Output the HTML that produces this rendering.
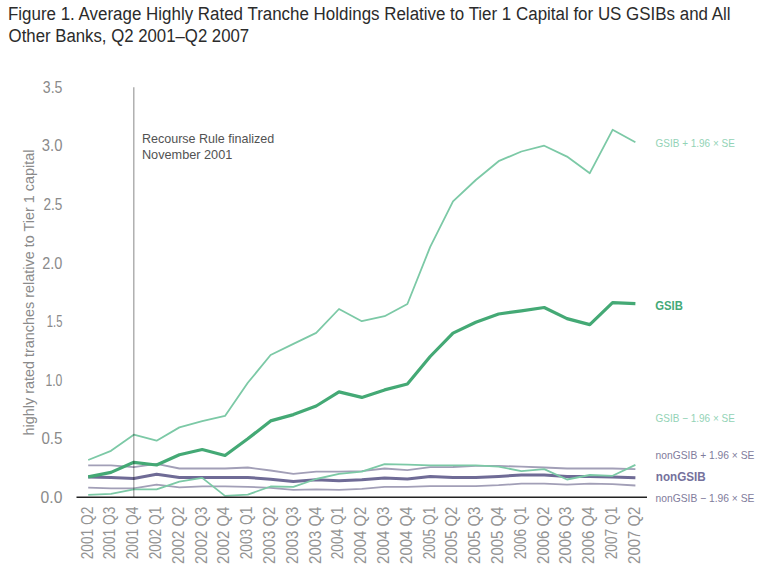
<!DOCTYPE html>
<html><head><meta charset="utf-8"><style>
html,body{margin:0;padding:0;background:#fff;}
svg{display:block;}
</style></head><body>
<svg width="768" height="583" viewBox="0 0 768 583" font-family="Liberation Sans, sans-serif">
<rect width="768" height="583" fill="#fff"/>
<g fill="#2b2b2b" font-size="18">
<text x="8.0" y="20.3" textLength="722.6" lengthAdjust="spacingAndGlyphs">Figure 1. Average Highly Rated Tranche Holdings Relative to Tier 1 Capital for US GSIBs and All</text>
<text x="8.6" y="41.5" textLength="240.6" lengthAdjust="spacingAndGlyphs">Other Banks, Q2 2001–Q2 2007</text>
</g>
<g fill="#8a8a8a" font-size="16">
<text x="62.4" y="502.7" text-anchor="end" textLength="21.8" lengthAdjust="spacingAndGlyphs">0.0</text><text x="62.4" y="444.1" text-anchor="end" textLength="21.0" lengthAdjust="spacingAndGlyphs">0.5</text><text x="62.4" y="385.6" text-anchor="end" textLength="17.0" lengthAdjust="spacingAndGlyphs">1.0</text><text x="62.4" y="327.0" text-anchor="end" textLength="15.6" lengthAdjust="spacingAndGlyphs">1.5</text><text x="62.4" y="268.5" text-anchor="end" textLength="20.1" lengthAdjust="spacingAndGlyphs">2.0</text><text x="62.4" y="209.9" text-anchor="end" textLength="18.9" lengthAdjust="spacingAndGlyphs">2.5</text><text x="62.4" y="151.3" text-anchor="end" textLength="20.6" lengthAdjust="spacingAndGlyphs">3.0</text><text x="62.4" y="92.8" text-anchor="end" textLength="19.6" lengthAdjust="spacingAndGlyphs">3.5</text>
</g>
<text transform="translate(33.5,435.5) rotate(-90)" fill="#8a8a8a" font-size="14.4" textLength="286" lengthAdjust="spacingAndGlyphs">highly rated tranches relative to Tier 1 capital</text>
<g fill="#939393" font-size="16">
<text transform="translate(92.6,506.7) rotate(-90)" text-anchor="end" textLength="52.6" lengthAdjust="spacingAndGlyphs">2001 Q2</text><text transform="translate(115.4,506.7) rotate(-90)" text-anchor="end" textLength="52.6" lengthAdjust="spacingAndGlyphs">2001 Q3</text><text transform="translate(138.2,506.7) rotate(-90)" text-anchor="end" textLength="52.6" lengthAdjust="spacingAndGlyphs">2001 Q4</text><text transform="translate(161.0,506.7) rotate(-90)" text-anchor="end" textLength="52.6" lengthAdjust="spacingAndGlyphs">2002 Q1</text><text transform="translate(183.8,506.7) rotate(-90)" text-anchor="end" textLength="57.2" lengthAdjust="spacingAndGlyphs">2002 Q2</text><text transform="translate(206.6,506.7) rotate(-90)" text-anchor="end" textLength="57.2" lengthAdjust="spacingAndGlyphs">2002 Q3</text><text transform="translate(229.4,506.7) rotate(-90)" text-anchor="end" textLength="57.2" lengthAdjust="spacingAndGlyphs">2002 Q4</text><text transform="translate(252.2,506.7) rotate(-90)" text-anchor="end" textLength="52.6" lengthAdjust="spacingAndGlyphs">2003 Q1</text><text transform="translate(275.0,506.7) rotate(-90)" text-anchor="end" textLength="57.2" lengthAdjust="spacingAndGlyphs">2003 Q2</text><text transform="translate(297.8,506.7) rotate(-90)" text-anchor="end" textLength="57.2" lengthAdjust="spacingAndGlyphs">2003 Q3</text><text transform="translate(320.6,506.7) rotate(-90)" text-anchor="end" textLength="57.2" lengthAdjust="spacingAndGlyphs">2003 Q4</text><text transform="translate(343.4,506.7) rotate(-90)" text-anchor="end" textLength="52.6" lengthAdjust="spacingAndGlyphs">2004 Q1</text><text transform="translate(366.2,506.7) rotate(-90)" text-anchor="end" textLength="57.2" lengthAdjust="spacingAndGlyphs">2004 Q2</text><text transform="translate(389.0,506.7) rotate(-90)" text-anchor="end" textLength="57.2" lengthAdjust="spacingAndGlyphs">2004 Q3</text><text transform="translate(411.8,506.7) rotate(-90)" text-anchor="end" textLength="57.2" lengthAdjust="spacingAndGlyphs">2004 Q4</text><text transform="translate(434.6,506.7) rotate(-90)" text-anchor="end" textLength="52.6" lengthAdjust="spacingAndGlyphs">2005 Q1</text><text transform="translate(457.4,506.7) rotate(-90)" text-anchor="end" textLength="57.2" lengthAdjust="spacingAndGlyphs">2005 Q2</text><text transform="translate(480.2,506.7) rotate(-90)" text-anchor="end" textLength="57.2" lengthAdjust="spacingAndGlyphs">2005 Q3</text><text transform="translate(503.0,506.7) rotate(-90)" text-anchor="end" textLength="57.2" lengthAdjust="spacingAndGlyphs">2005 Q4</text><text transform="translate(525.8,506.7) rotate(-90)" text-anchor="end" textLength="52.6" lengthAdjust="spacingAndGlyphs">2006 Q1</text><text transform="translate(548.6,506.7) rotate(-90)" text-anchor="end" textLength="57.2" lengthAdjust="spacingAndGlyphs">2006 Q2</text><text transform="translate(571.4,506.7) rotate(-90)" text-anchor="end" textLength="57.2" lengthAdjust="spacingAndGlyphs">2006 Q3</text><text transform="translate(594.2,506.7) rotate(-90)" text-anchor="end" textLength="57.2" lengthAdjust="spacingAndGlyphs">2006 Q4</text><text transform="translate(617.0,506.7) rotate(-90)" text-anchor="end" textLength="52.6" lengthAdjust="spacingAndGlyphs">2007 Q1</text><text transform="translate(639.8,506.7) rotate(-90)" text-anchor="end" textLength="57.2" lengthAdjust="spacingAndGlyphs">2007 Q2</text>
</g>
<g fill="none" stroke-linejoin="round" stroke-linecap="butt">
<polyline points="88.2,465.4 111.0,465.4 133.8,467.2 156.6,463.9 179.4,468.5 202.2,468.5 225.0,468.5 247.8,467.5 270.6,470.5 293.4,473.8 316.2,471.7 339.0,471.7 361.8,471.1 384.6,468.5 407.4,470.1 430.2,467.2 453.0,467.0 475.8,465.9 498.6,465.9 521.4,466.7 544.2,467.5 567.0,468.5 589.8,468.5 612.6,468.5 635.4,469.1" stroke="#a29fb7" stroke-width="1.8"/>
<polyline points="88.2,487.6 111.0,488.4 133.8,488.4 156.6,484.7 179.4,487.3 202.2,486.3 225.0,486.3 247.8,486.8 270.6,487.8 293.4,489.9 316.2,489.4 339.0,489.9 361.8,488.9 384.6,486.8 407.4,486.8 430.2,486.2 453.0,486.2 475.8,486.2 498.6,485.2 521.4,483.6 544.2,483.6 567.0,484.7 589.8,483.6 612.6,484.2 635.4,485.5" stroke="#a29fb7" stroke-width="1.8"/>
<polyline points="88.2,476.9 111.0,477.4 133.8,478.4 156.6,474.3 179.4,477.4 202.2,477.4 225.0,477.4 247.8,477.4 270.6,479.3 293.4,481.6 316.2,479.7 339.0,480.8 361.8,479.7 384.6,477.9 407.4,479.0 430.2,476.4 453.0,477.4 475.8,477.4 498.6,476.4 521.4,475.0 544.2,475.0 567.0,476.4 589.8,476.4 612.6,476.9 635.4,477.7" stroke="#6f6b96" stroke-width="3"/>
<polyline points="88.2,460.0 111.0,450.8 133.8,434.7 156.6,440.7 179.4,427.4 202.2,421.1 225.0,415.9 247.8,382.8 270.6,355.0 293.4,343.9 316.2,332.9 339.0,309.0 361.8,321.2 384.6,316.2 407.4,304.0 430.2,246.9 453.0,201.3 475.8,180.0 498.6,161.2 521.4,151.5 544.2,145.7 567.0,156.6 589.8,173.2 612.6,129.8 635.4,142.3" stroke="#7cc9a6" stroke-width="1.8"/>
<polyline points="88.2,494.8 111.0,493.8 133.8,489.4 156.6,489.4 179.4,481.6 202.2,477.9 225.0,495.9 247.8,494.6 270.6,486.5 293.4,486.9 316.2,479.0 339.0,473.8 361.8,471.6 384.6,464.1 407.4,464.6 430.2,465.4 453.0,465.4 475.8,465.4 498.6,466.7 521.4,471.1 544.2,469.1 567.0,479.5 589.8,475.0 612.6,475.8 635.4,464.9" stroke="#7cc9a6" stroke-width="1.8"/>
<polyline points="88.2,476.9 111.0,472.4 133.8,462.3 156.6,465.0 179.4,454.7 202.2,449.5 225.0,455.5 247.8,438.8 270.6,420.9 293.4,414.6 316.2,406.0 339.0,391.9 361.8,397.4 384.6,389.9 407.4,384.0 430.2,356.5 453.0,333.1 475.8,322.3 498.6,314.0 521.4,310.8 544.2,307.5 567.0,318.6 589.8,324.6 612.6,302.6 635.4,303.6" stroke="#44a975" stroke-width="3.2"/>
</g>
<line x1="133.8" y1="87.3" x2="133.8" y2="497" stroke="#000" stroke-opacity="0.36" stroke-width="1.3"/>
<line x1="76.5" y1="497.2" x2="647" y2="497.2" stroke="#222" stroke-width="1.5"/>
<g fill="#525252" font-size="13.6">
<text x="141.9" y="142.8" textLength="132.4" lengthAdjust="spacingAndGlyphs">Recourse Rule finalized</text>
<text x="141.9" y="158.5" textLength="90.4" lengthAdjust="spacingAndGlyphs">November 2001</text>
</g>
<g font-size="10.9">
<text x="655.6" y="146.9" fill="#93d3b6" textLength="79.2" lengthAdjust="spacingAndGlyphs">GSIB + 1.96 × SE</text>
<text x="655.6" y="422.2" fill="#93d3b6" textLength="79.2" lengthAdjust="spacingAndGlyphs">GSIB − 1.96 × SE</text>
<text x="655.6" y="459" fill="#7f7c9c" textLength="98.8" lengthAdjust="spacingAndGlyphs">nonGSIB + 1.96 × SE</text>
<text x="655.6" y="502" fill="#7f7c9c" textLength="98.8" lengthAdjust="spacingAndGlyphs">nonGSIB − 1.96 × SE</text>
</g>
<g font-size="12" font-weight="bold">
<text x="655.2" y="309.5" fill="#45a977" textLength="27.6" lengthAdjust="spacingAndGlyphs">GSIB</text>
<text x="655.8" y="480.5" fill="#75719c" textLength="49.9" lengthAdjust="spacingAndGlyphs">nonGSIB</text>
</g>
</svg>
</body></html>
